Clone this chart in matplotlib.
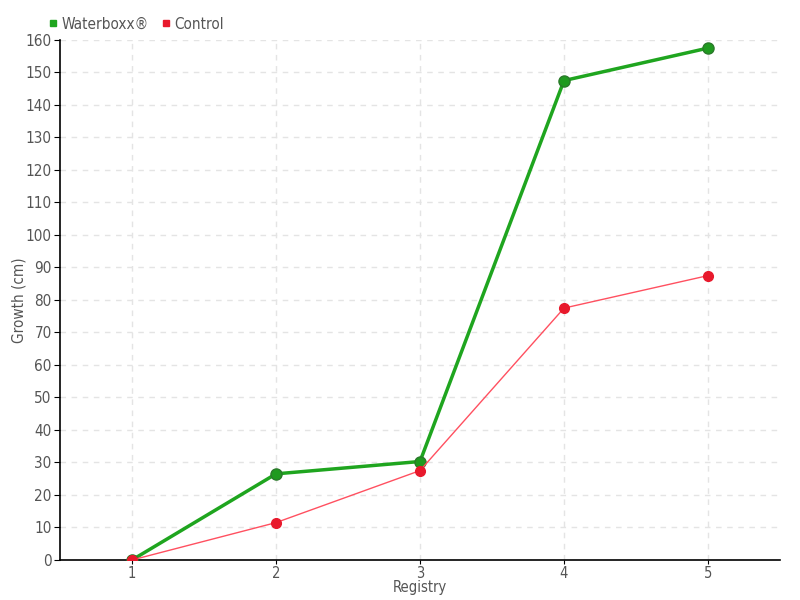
import matplotlib
matplotlib.use("Agg")
import matplotlib.pyplot as plt
from matplotlib.lines import Line2D

registry = [1, 2, 3, 4, 5]
waterboxx = [0, 26.5, 30.3, 147.5, 157.5]
control = [0, 11.5, 27.5, 77.5, 87.5]
yticks = list(range(0, 161, 10))

plt.rcParams['font.family'] = ['DejaVu Sans']
plt.rcParams['font.stretch'] = 'condensed'
text_color = '#555555'

fig = plt.figure(figsize=(8, 6), dpi=100)
ax = fig.add_axes([0.075, 0.0667, 0.9, 0.8667])

ax.plot(registry, waterboxx, color='#1fa51f', lw=2.5, marker='o', ms=8,
        mfc='#1f9a1f', mec='#2a7a2a', zorder=3)
ax.plot(registry, control, color='#ff5060', lw=1, marker='o', ms=7,
        mfc='#e8192c', mec='#e8192c', zorder=4)

ax.set_xlim(0.5, 5.5)
ax.set_ylim(0, 160)
ax.set_xticks(registry)
ax.set_yticks(yticks)
ax.grid(True, color='#e4e4e4', ls=(0, (4, 4)), lw=1)
ax.set_axisbelow(True)
for s in ['top', 'right']:
    ax.spines[s].set_visible(False)
ax.spines['left'].set_linewidth(1.2)
ax.spines['bottom'].set_linewidth(1.2)
ax.tick_params(colors='black', labelcolor=text_color, labelsize=11, length=4, pad=2)
ax.tick_params(axis='x', length=3, pad=1, labelsize=10.5)

ax.set_xlabel('Registry', color=text_color, fontsize=10.5)
ax.xaxis.set_label_coords(0.5, -0.038)
ax.set_ylabel('Growth (cm)', color=text_color, fontsize=11)
ax.yaxis.set_label_coords(-0.047, 0.5)

handles = [Line2D([], [], ls='none', marker='s', ms=5, color='#1fa51f'),
           Line2D([], [], ls='none', marker='s', ms=5, color='#e8192c')]
fig.legend(handles, ['Waterboxx®', 'Control'], loc='upper left',
           bbox_to_anchor=(0.04, 0.995), ncol=2, frameon=False,
           handletextpad=0.05, columnspacing=0.6, handlelength=1,
           labelcolor=text_color, fontsize=11)

fig.savefig('out.png', dpi=100)
